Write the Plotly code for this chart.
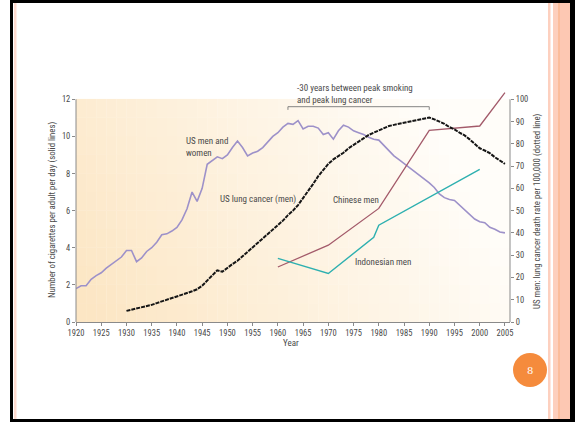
import plotly.graph_objects as go

# ---------------- data ----------------
years_smoking = list(range(1920, 2006))
us_cigarettes = [
    1.8, 1.95, 1.95, 2.3, 2.5, 2.65, 2.9, 3.1, 3.3, 3.5,
    3.85, 3.85, 3.25, 3.45, 3.8, 4.0, 4.3, 4.7, 4.75, 4.9,
    5.1, 5.5, 6.1, 7.0, 6.5, 7.2, 8.5, 8.7, 8.9, 8.8,
    9.0, 9.4, 9.75, 9.4, 8.95, 9.1, 9.2, 9.4, 9.7, 10.0,
    10.2, 10.5, 10.7, 10.65, 10.85, 10.4, 10.55, 10.55, 10.45, 10.1,
    10.2, 9.85, 10.3, 10.6, 10.5, 10.3, 10.2, 10.1, 9.95, 9.85,
    9.8, 9.5, 9.2, 8.95, 8.75, 8.55, 8.3, 8.1, 7.9, 7.7,
    7.5, 7.25, 6.9, 6.7, 6.6, 6.55, 6.3, 6.0, 5.8, 5.55,
    5.4, 5.35, 5.1, 5.0, 4.85, 4.8,
]
years_cancer = list(range(1930, 2006))
us_lung_cancer = [
    5.0, 5.5, 6.0, 6.5, 7.0, 7.7, 8.5, 9.2, 10.0, 10.8,
    11.5, 12.3, 13.0, 13.8, 14.7, 16.3, 18.5, 21.0, 23.2, 22.6,
    24.5, 26.0, 27.5, 29.5, 31.5, 33.5, 35.5, 37.5, 39.5, 41.3,
    43.5, 45.5, 48.0, 50.0, 52.5, 55.5, 58.5, 62.0, 65.5, 68.5,
    71.0, 73.0, 74.5, 76.0, 78.0, 79.5, 81.0, 82.5, 84.0, 85.0,
    86.0, 87.0, 88.0, 88.5, 89.0, 89.5, 89.8, 90.2, 90.8, 91.2,
    91.8, 91.0, 90.0, 89.0, 87.5, 86.5, 85.0, 83.8, 82.0, 80.0,
    78.0, 77.0, 75.8, 74.0, 72.5, 71.0,
]
china_years = [1960, 1970, 1980, 1990, 2000, 2005]
china_men = [24.7, 34.5, 51.0, 86.0, 88.0, 103.0]
indo_years = [1960, 1970, 1979, 1980, 2000]
indo_men = [28.6, 21.8, 38.0, 43.5, 68.5]

left_ticks = [0, 2, 4, 6, 8, 10, 12]
right_ticks = [0, 10, 20, 30, 40, 50, 60, 70, 80, 90, 100]

# ---------------- layout geometry ----------------
W, H = 575, 422
ML, MR, MT, MB = 76, 65, 90, 100
PW, PH = W - ML - MR, H - MT - MB
X_RANGE = [1920, 2006]
Y_MAX = 12.5
Y2_MAX = Y_MAX * 100 / 12

def px(x):
    return (x - ML) / PW

def py(y):
    return (H - MB - y) / PH

FONT = "Liberation Sans Narrow, Roboto Condensed, Arial Narrow, Roboto, sans-serif"
TXT = "#4a4a4a"

fig = go.Figure()

fig.add_trace(go.Scatter(x=years_smoking, y=us_cigarettes, mode="lines",
                         line=dict(color="#9d91c9", width=1.6), yaxis="y",
                         hoverinfo="skip", showlegend=False))
fig.add_trace(go.Scatter(x=china_years, y=china_men, mode="lines",
                         line=dict(color="#a35a6a", width=1.3), yaxis="y2",
                         hoverinfo="skip", showlegend=False))
fig.add_trace(go.Scatter(x=indo_years, y=indo_men, mode="lines",
                         line=dict(color="#2eb0b0", width=1.4), yaxis="y2",
                         hoverinfo="skip", showlegend=False))
fig.add_trace(go.Scatter(x=years_cancer, y=us_lung_cancer, mode="lines",
                         line=dict(color="#151515", width=2.0, dash="4px,1px"),
                         yaxis="y2", hoverinfo="skip", showlegend=False))

shapes = []
# gradient background of the plot area
nx, ny = 43, 12
for i in range(nx):
    for j in range(ny):
        xf = (i + 0.5) / nx
        yf = (j + 0.5) / ny
        t = max(0.0, min(1.0, 1.0 - 0.95 * xf - 0.3 * yf + 0.05))
        c0 = (255, 253, 249)
        c1 = (252, 230, 196)
        col = tuple(int(round(c0[k] + (c1[k] - c0[k]) * t)) for k in range(3))
        shapes.append(dict(type="rect", xref="x", yref="y", layer="below",
                           x0=X_RANGE[0] + (X_RANGE[1] - X_RANGE[0]) * i / nx,
                           x1=X_RANGE[0] + (X_RANGE[1] - X_RANGE[0]) * (i + 1) / nx + 0.05,
                           y0=12 * j / ny, y1=12 * (j + 1) / ny + 0.02,
                           line=dict(width=0), fillcolor="rgb(%d,%d,%d)" % col))
# axis lines
shapes.append(dict(type="line", xref="paper", yref="y", x0=0, x1=0, y0=0, y1=12,
                   line=dict(color="#8a8a8a", width=1)))
shapes.append(dict(type="line", xref="paper", yref="y2", x0=1, x1=1, y0=0, y1=100,
                   line=dict(color="#8a8a8a", width=1)))
# bracket for the 30-year gap
shapes.append(dict(type="path", xref="x", yref="y",
                   path="M 1962,11.43 L 1962,11.6 L 1990,11.6 L 1990,11.43",
                   line=dict(color="#777777", width=0.9)))
# slide frame
def prect(x0, y0, x1, y1, color):
    shapes.append(dict(type="rect", xref="paper", yref="paper", layer="above",
                       x0=px(x0), x1=px(x1), y0=py(y1), y1=py(y0),
                       line=dict(width=0), fillcolor=color))

prect(14, 3, 16.5, 419, "#fedbd0")
prect(548, 3, 550.5, 419, "#fdd0bf")
prect(553, 3, 558.3, 419, "#fdcfbd")
prect(558.3, 3, 559.8, 419, "#f9a77a")
prect(559.8, 3, 570, 419, "#fdc8b3")
prect(10, 0, 13, 422, "#000000")
prect(10, 0, 575, 3, "#000000")
prect(10, 419, 575, 422, "#000000")
prect(570, 0, 575, 422, "#000000")
# page-number circle
shapes.append(dict(type="circle", xref="paper", yref="paper",
                   xsizemode="pixel", ysizemode="pixel",
                   xanchor=px(530), yanchor=py(370),
                   x0=-17, x1=17, y0=-17, y1=17,
                   line=dict(width=0), fillcolor="#f58b3c"))

ann = []
def note(text, x, y, xref="x", yref="y", size=9, **kw):
    d = dict(text=text, x=x, y=y, xref=xref, yref=yref, showarrow=False,
             font=dict(family=FONT, size=size, color=kw.pop("color", TXT)))
    d.update(kw)
    ann.append(d)

note("US men and<br>women", 1941.4, 9.43, xanchor="left", yanchor="middle", align="left")
note("US lung cancer (men)", 1948.2, 6.6, xanchor="left", yanchor="middle")
note("Chinese men", 1970.6, 6.57, xanchor="left", yanchor="middle")
note("Indonesian men", 1974.8, 3.21, xanchor="left", yanchor="middle")
note("-30 years between peak smoking<br>and peak lung cancer", 1963.4, 12.28,
     xanchor="left", yanchor="middle", align="left")
note("Number of cigarettes per adult per day (solid lines)", px(52), py(210),
     xref="paper", yref="paper", size=8.8, textangle=-90,
     xanchor="center", yanchor="middle")
note("US men: lung cancer death rate per 100,000 (dotted line)", px(537), py(211),
     xref="paper", yref="paper", size=8.8, textangle=-90,
     xanchor="center", yanchor="middle")
note("Year", px(291), py(343), xref="paper", yref="paper", size=9,
     xanchor="center", yanchor="middle")
note("8", px(530), py(370), xref="paper", yref="paper", size=10,
     color="#ffffff", xanchor="center", yanchor="middle")
ann[-1]["font"]["family"] = "DejaVu Serif, Liberation Serif, serif"

tickfont = dict(family=FONT, size=8.5, color=TXT)
fig.update_layout(
    width=W, height=H,
    margin=dict(l=ML, r=MR, t=MT, b=MB, pad=0),
    paper_bgcolor="white", plot_bgcolor="white",
    shapes=shapes, annotations=ann,
    xaxis=dict(range=X_RANGE, tickmode="linear", tick0=1920, dtick=5,
               showgrid=False, zeroline=False, showline=True, linecolor="#8a8a8a",
               linewidth=1, ticks="outside", ticklen=3, tickcolor="#8a8a8a",
               tickfont=tickfont, fixedrange=True),
    yaxis=dict(range=[0, Y_MAX], tickmode="array", tickvals=left_ticks,
               showgrid=False, zeroline=False, showline=False,
               ticks="outside", ticklen=3, tickcolor="#8a8a8a",
               tickfont=tickfont, fixedrange=True),
    yaxis2=dict(range=[0, Y2_MAX], overlaying="y", side="right", tickmode="array",
                tickvals=right_ticks, showgrid=False, zeroline=False, showline=False,
                ticks="outside", ticklen=3, tickcolor="#8a8a8a",
                tickfont=tickfont, fixedrange=True),
    showlegend=False,
)

fig.write_html("out.html")
